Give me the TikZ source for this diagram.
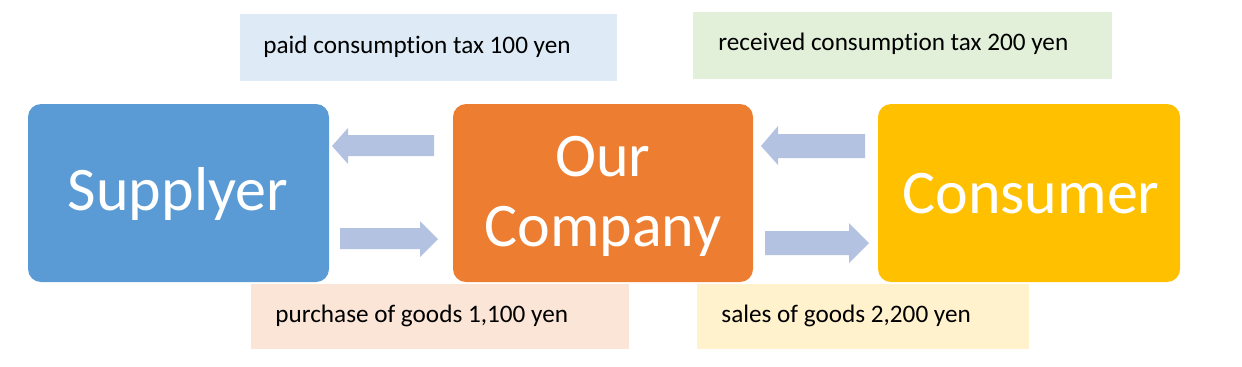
\documentclass[tikz,border=0pt]{standalone}
\usepackage{fontspec}
\setmainfont[Ligatures={NoCommon,TeX}]{Carlito}
\definecolor{cblue}{HTML}{5B9BD5}
\definecolor{corange}{HTML}{ED7D31}
\definecolor{cgold}{HTML}{FFC000}
\definecolor{arr}{HTML}{B4C2E2}
\definecolor{lblue}{HTML}{DEEBF7}
\definecolor{lgreen}{HTML}{E2F0D9}
\definecolor{lpeach}{HTML}{FBE5D6}
\definecolor{lyellow}{HTML}{FFF2CC}
\begin{document}
\begin{tikzpicture}[x=0.5pt,y=-0.5pt,
  bigbox/.style={rounded corners=6.5pt,draw=none,inner sep=0pt},
  bigtext/.style={text=white,font=\fontsize{31}{35}\selectfont,align=center},
  notetext/.style={anchor=west,font=\fontsize{12.6}{15}\selectfont,inner sep=0pt},
  blockarrow/.style={fill=arr,draw=none}]
\useasboundingbox (0,0) rectangle (1242,366);
% main boxes
\fill[cblue,bigbox] (28,104) rectangle (329,282);
\fill[corange,bigbox] (453,104) rectangle (753,282);
\fill[cgold,bigbox] (878,104) rectangle (1180,282);
\node[bigtext] (sup) at (178,194) {Supplyer};
\node[bigtext] (our) at (603,196) {Our\\Company};
\node[bigtext] (con) at (1031,194) {Consumer};
% notes
\fill[lblue] (240,14) rectangle (617,81);
\node[notetext] (paid) at (263,47) {paid consumption tax 100 yen};
\fill[lgreen] (693,12) rectangle (1112,79);
\node[notetext] (recv) at (718,44) {received consumption tax 200 yen};
\fill[lpeach] (251,284) rectangle (629,349);
\node[notetext] (purch) at (275,316) {purchase of goods 1,100 yen};
\fill[lyellow] (697,284) rectangle (1029,349);
\node[notetext] (sales) at (721,316) {sales of goods 2,200 yen};
% block arrows
\fill[blockarrow] (434,135) -- (348,135) -- (348,128) -- (332,146) -- (348,164) -- (348,156) -- (434,156) -- cycle;
\fill[blockarrow] (340,228) -- (420,228) -- (420,221) -- (438,239) -- (420,257) -- (420,249) -- (340,249) -- cycle;
\fill[blockarrow] (865,134) -- (778,134) -- (778,126) -- (761,146) -- (778,165) -- (778,158) -- (865,158) -- cycle;
\fill[blockarrow] (765,231) -- (849,231) -- (849,223) -- (869,243) -- (849,263) -- (849,255) -- (765,255) -- cycle;
\end{tikzpicture}
\end{document}
